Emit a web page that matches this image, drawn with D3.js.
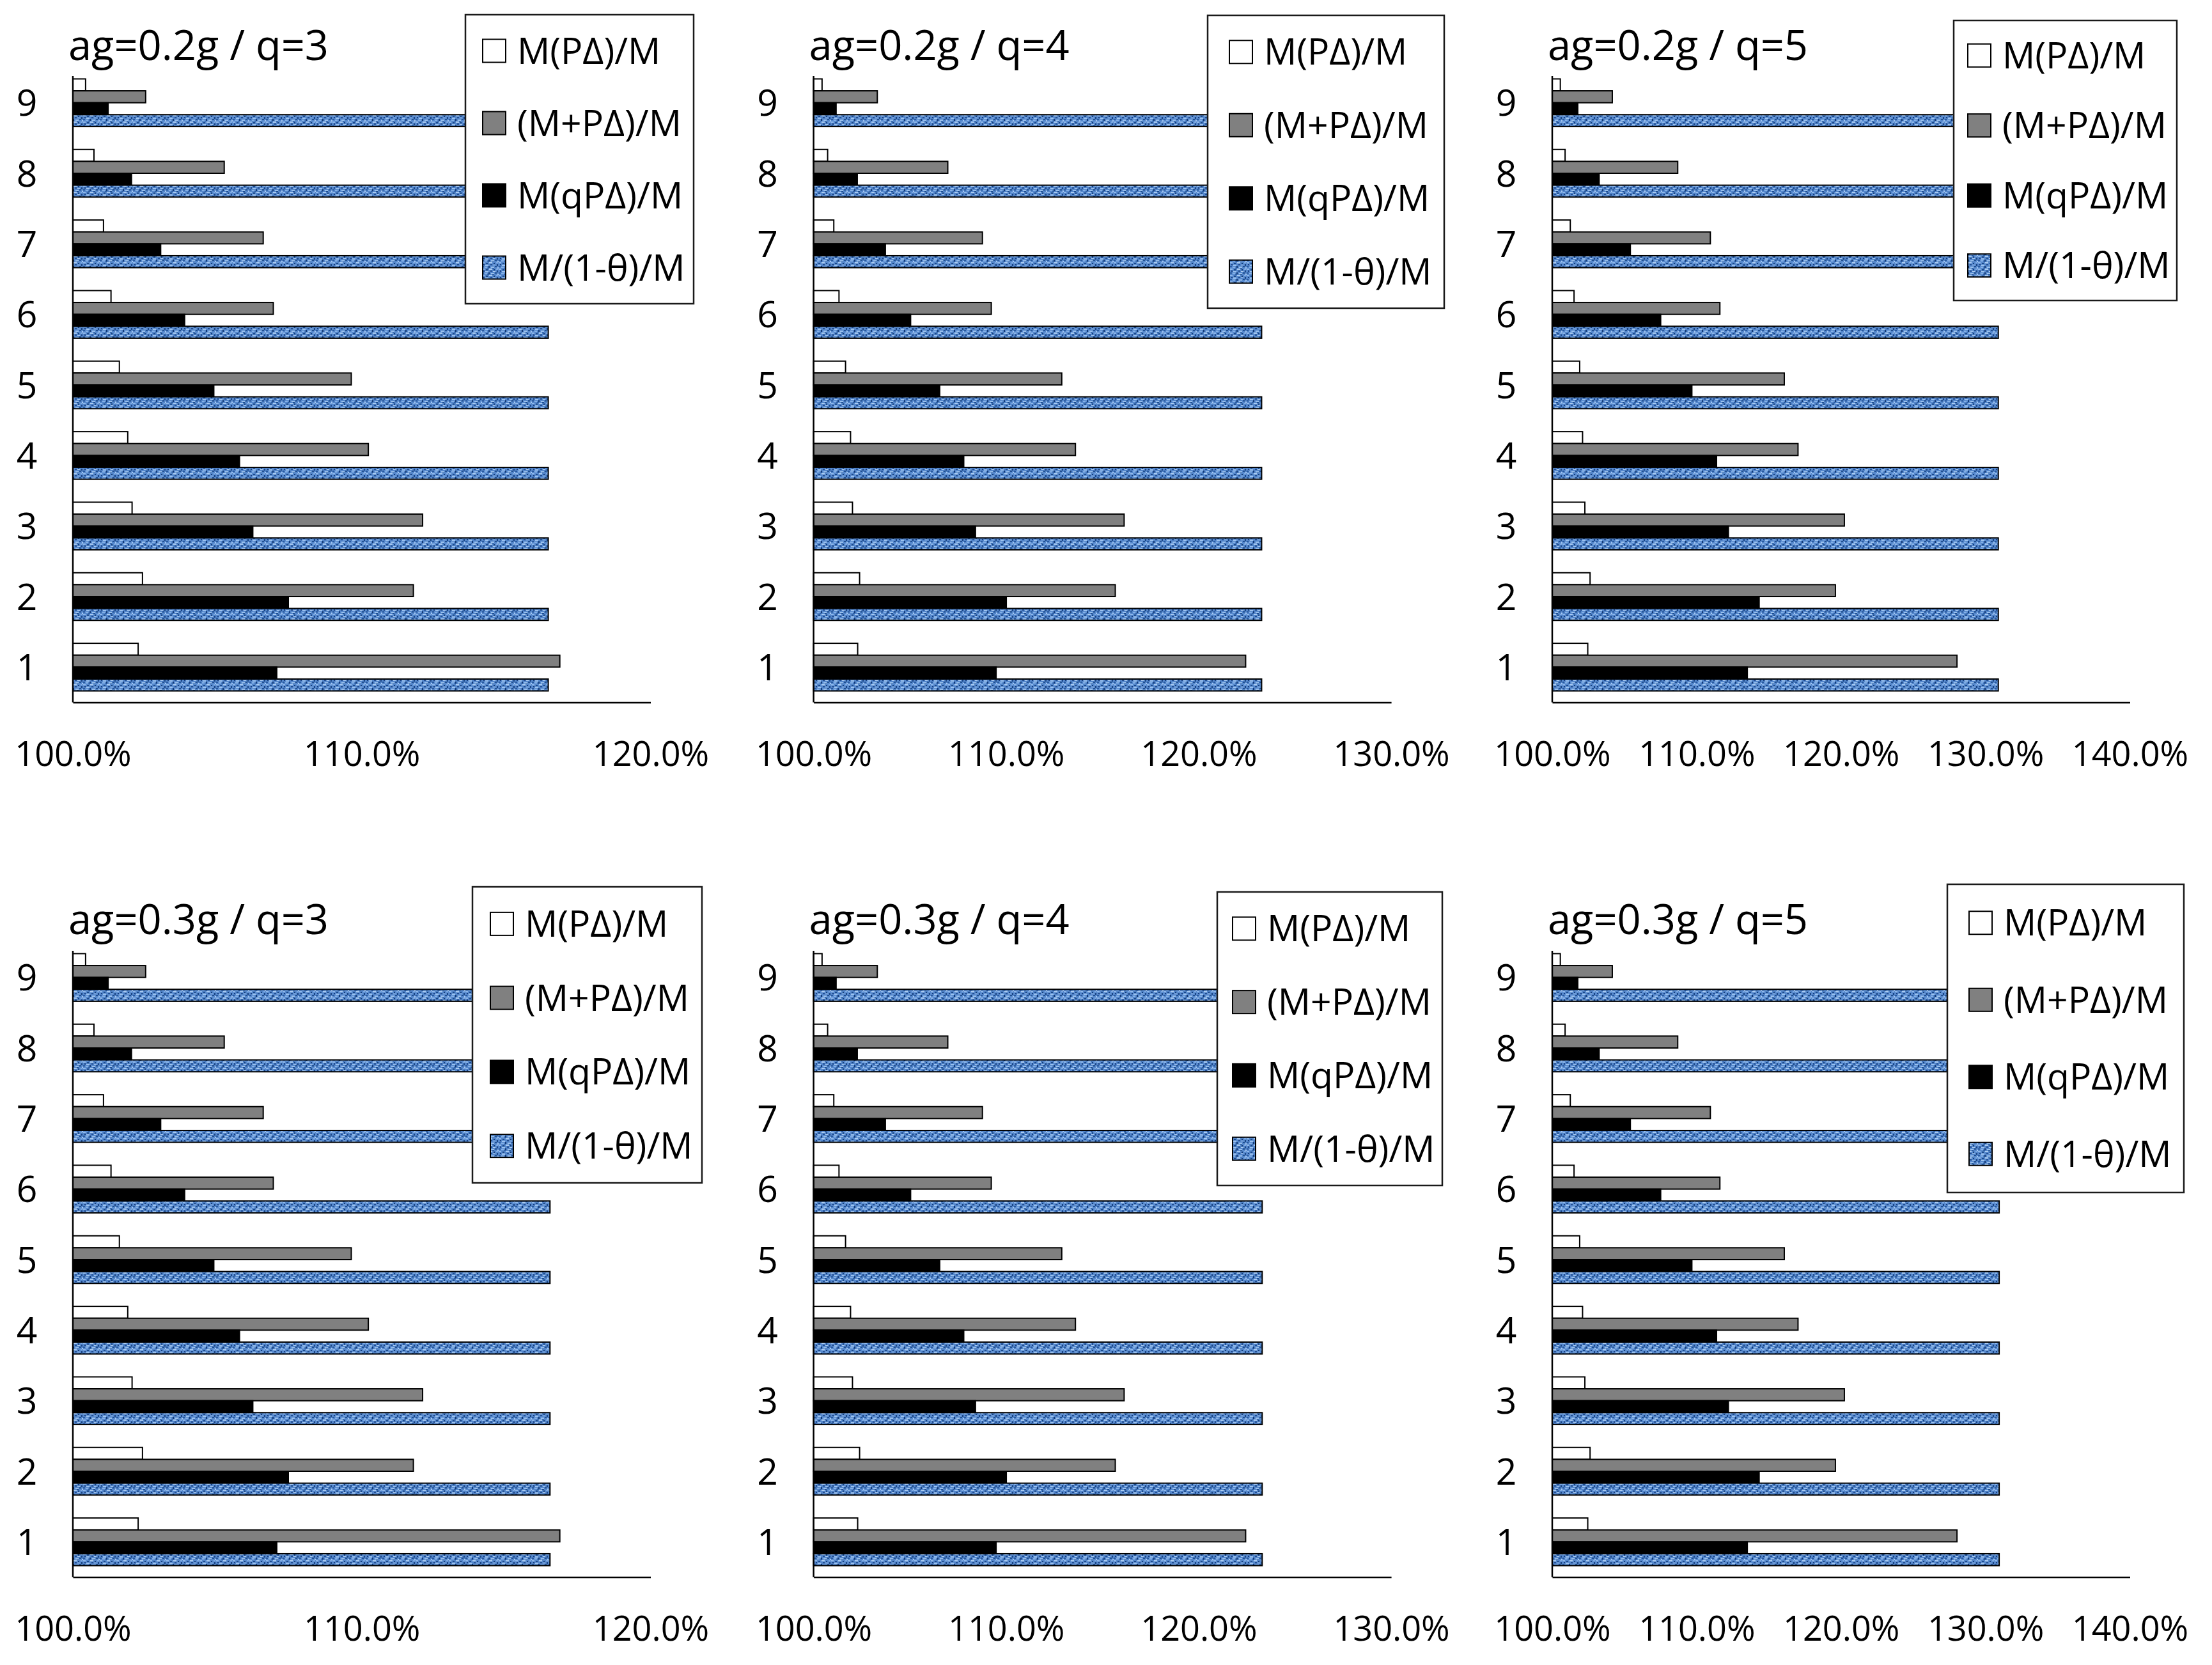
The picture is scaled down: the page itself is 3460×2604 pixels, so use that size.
<!DOCTYPE html>
<html><head><meta charset="utf-8">
<script src="https://cdn.jsdelivr.net/npm/d3@7"></script>
<style>
body{margin:0;background:#fff}
svg{display:block}
text{font-family:"Open Sans",sans-serif;fill:#000}
</style>
</head><body>
<svg id="c" width="3460" height="2604"></svg>
<script>
// ---------- data ----------
const storeys = ["1","2","3","4","5","6","7","8","9"];
const seriesNames = ["M(PΔ)/M","(M+PΔ)/M","M(qPΔ)/M","M/(1-θ)/M"];
const titles = ["ag=0.2g / q=3","ag=0.2g / q=4","ag=0.2g / q=5","ag=0.3g / q=3","ag=0.3g / q=4","ag=0.3g / q=5"];
const ticksQ3 = [100,110,120];
const ticksQ4 = [100,110,120,130];
const ticksQ5 = [100,110,120,130,140];

// values in %, storeys 1..9
const mpdQ3  = [102.26,102.41,102.05,101.90,101.61,101.32,101.06,100.73,100.44];
const mppdQ3 = [116.86,111.79,112.11,110.23,109.64,106.94,106.59,105.24,102.52];
const mqpdQ3 = [107.06,107.46,106.23,105.77,104.88,103.87,103.04,102.03,101.22];
const thetaQ3_02 = [116.46,116.46,116.46,116.46,116.46,116.46,116.46,116.46,116.46];
const thetaQ3_03 = [116.52,116.52,116.52,116.52,116.52,116.52,116.52,116.52,116.52];

const mpdQ4  = [102.29,102.39,102.02,101.92,101.66,101.32,101.05,100.73,100.44];
const mppdQ4 = [122.44,115.67,116.13,113.60,112.89,109.23,108.77,106.97,103.31];
const mqpdQ4 = [109.48,110.01,108.41,107.80,106.55,105.04,103.73,102.27,101.17];
const thetaQ4_02 = [123.27,123.27,123.27,123.27,123.27,123.27,123.27,123.27,123.27];
const thetaQ4_03 = [123.30,123.30,123.30,123.30,123.30,123.30,123.30,123.30,123.30];

const mpdQ5  = [102.46,102.62,102.26,102.10,101.90,101.51,101.25,100.89,100.56];
const mppdQ5 = [128.03,119.61,120.23,117.02,116.07,111.61,110.95,108.69,104.16];
const mqpdQ5 = [113.51,114.33,112.20,111.38,109.67,107.51,105.41,103.25,101.77];
const thetaQ5_02 = [130.89,130.89,130.89,130.89,130.89,130.89,130.89,130.89,130.89];
const thetaQ5_03 = [130.95,130.95,130.95,130.95,130.95,130.95,130.95,130.95,130.95];

// ---------- layout ----------
const PW = 903.5;
const rowTop = [105.5, 1473.5], rowBottom = [1098.5, 2466.5], rowAxisTop = [119, 1487], rowTitle = [94, 1461];
const colLeft = [114, 1272.6, 2428];
const panels = [
  {t:0,row:0,col:0,max:120,ticks:ticksQ3,data:[mpdQ3,mppdQ3,mqpdQ3,thetaQ3_02],lg:{x:728,y:23,w:357,h:452,sx:755}},
  {t:1,row:0,col:1,max:130,ticks:ticksQ4,data:[mpdQ4,mppdQ4,mqpdQ4,thetaQ4_02],lg:{x:1889,y:24,w:370,h:458,sx:1923}},
  {t:2,row:0,col:2,max:140,ticks:ticksQ5,data:[mpdQ5,mppdQ5,mqpdQ5,thetaQ5_02],lg:{x:3056,y:32,w:349,h:438,sx:3078}},
  {t:3,row:1,col:0,max:120,ticks:ticksQ3,data:[mpdQ3,mppdQ3,mqpdQ3,thetaQ3_03],lg:{x:739,y:1387,w:359,h:463,sx:767}},
  {t:4,row:1,col:1,max:130,ticks:ticksQ4,data:[mpdQ4,mppdQ4,mqpdQ4,thetaQ4_03],lg:{x:1904,y:1395,w:352,h:459,sx:1928}},
  {t:5,row:1,col:2,max:140,ticks:ticksQ5,data:[mpdQ5,mppdQ5,mqpdQ5,thetaQ5_03],lg:{x:3046,y:1383,w:370,h:482,sx:3080}}
];
const fills = ["#ffffff","#808080","#000000","url(#tex)"];

const svg = d3.select("#c");
svg.append("rect").attr("width",3460).attr("height",2604).attr("fill","#fff");

// texture pattern for M/(1-θ)/M
const defs = svg.append("defs");
const pat = defs.append("pattern").attr("id","tex").attr("patternUnits","userSpaceOnUse")
  .attr("width",26).attr("height",10);
pat.append("rect").attr("width",26).attr("height",10).attr("fill","#5487cc");
const specks = [
  [0,0,4,2,"#8fb8ea"],[6,1,3,2,"#1d4a8a"],[11,0,5,2,"#a9caf0"],[18,1,2,2,"#16407c"],[22,0,3,2,"#7eaae2"],
  [2,3,2,2,"#183f80"],[5,4,5,2,"#9cc2ee"],[13,3,3,2,"#234f92"],[17,4,4,1,"#b6d3f4"],[23,3,2,3,"#1b4584"],
  [0,6,3,2,"#2a5a9e"],[4,7,4,2,"#84b0e6"],[10,6,2,3,"#133a76"],[14,7,5,2,"#98bfec"],[20,6,3,2,"#22508f"],
  [24,8,2,2,"#a6c8f1"],[8,9,3,1,"#2f60a4"],[16,9,3,1,"#1f4e90"]
];
specks.forEach(s=>pat.append("rect").attr("x",s[0]).attr("y",s[1]).attr("width",s[2]).attr("height",s[3]).attr("fill",s[4]));

panels.forEach(p=>{
  const L = colLeft[p.col], top = rowTop[p.row], bot = rowBottom[p.row];
  const g = svg.append("g");
  const x = d3.scaleLinear().domain([100,p.max]).range([L, L+PW]);
  const y = d3.scaleBand().domain(storeys.slice().reverse()).range([top,bot]).paddingInner(0.325).paddingOuter(0.1625);
  const ys = d3.scaleBand().domain(d3.range(4)).range([0,y.bandwidth()]);

  // bars
  p.data.forEach((vals,si)=>{
    g.append("g").selectAll("rect").data(vals).join("rect")
      .attr("x", x(100))
      .attr("y", (d,i)=>y(storeys[i])+ys(si))
      .attr("width", d=>x(d)-x(100))
      .attr("height", ys.bandwidth())
      .attr("fill", fills[si])
      .attr("stroke","#000").attr("stroke-width",2);
  });

  // x axis
  const xa = g.append("g").attr("transform",`translate(0,${bot})`)
    .call(d3.axisBottom(x).tickValues(p.ticks).tickSize(0).tickSizeOuter(0).tickFormat(d=>d.toFixed(1)+"%"));
  xa.select(".domain").attr("stroke","#000").attr("stroke-width",2.5);
  xa.selectAll("text").attr("y",99.5).attr("dy",null)
    .style("font-family","'Open Sans',sans-serif").style("font-size","54px").attr("fill","#000");

  // y axis labels
  const ya = g.append("g").attr("transform",`translate(${L},0)`)
    .call(d3.axisLeft(y).tickSize(0));
  ya.select(".domain").remove();
  ya.selectAll("text").attr("x",-72).attr("dy","0.36em").attr("text-anchor","middle")
    .style("font-family","'Open Sans',sans-serif").style("font-size","57px").attr("fill","#000");
  g.append("line").attr("x1",L).attr("x2",L).attr("y1",rowAxisTop[p.row]).attr("y2",bot)
    .attr("stroke","#000").attr("stroke-width",2.5);

  // title
  g.append("text").attr("x",L-7).attr("y",rowTitle[p.row]).style("font-size","65px").text(titles[p.t]);

  // legend
  const lg = p.lg;
  const lgG = g.append("g");
  lgG.append("rect").attr("x",lg.x).attr("y",lg.y).attr("width",lg.w).attr("height",lg.h)
    .attr("fill","#fff").attr("stroke","#1a1a1a").attr("stroke-width",2.5);
  seriesNames.forEach((name,i)=>{
    const cy = lg.y + lg.h/8*(2*i+1);
    lgG.append("rect").attr("x",lg.sx).attr("y",cy-18).attr("width",36).attr("height",36)
      .attr("fill",fills[i]).attr("stroke","#000").attr("stroke-width",2);
    lgG.append("text").attr("x",lg.sx+54).attr("y",cy+20).style("font-size","57px").text(name);
  });
});
</script>
</body></html>
